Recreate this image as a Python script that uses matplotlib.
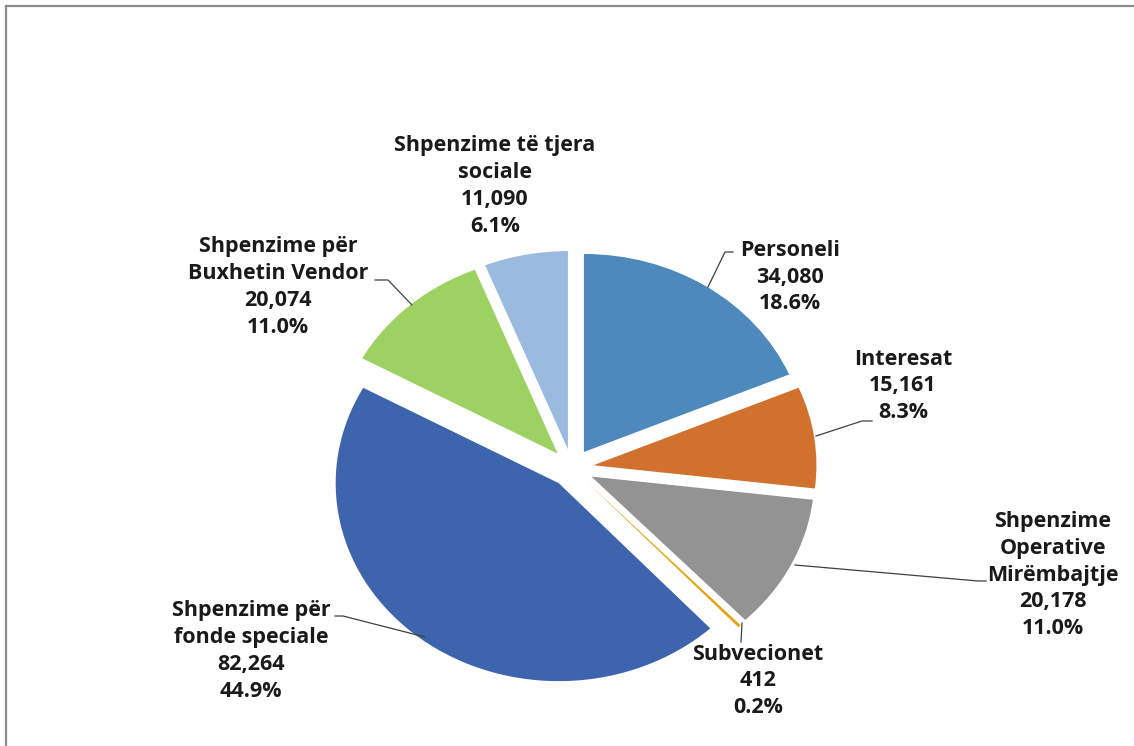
import matplotlib
matplotlib.use("Agg")
import matplotlib.pyplot as plt
from matplotlib.lines import Line2D

# ---- data ----
categories = ["Personeli", "Interesat", "Shpenzime\nOperative\nMirëmbajtje",
              "Subvecionet", "Shpenzime për\nfonde speciale",
              "Shpenzime për\nBuxhetin Vendor", "Shpenzime të tjera\nsociale"]
values = [34080, 15161, 20178, 412, 82264, 20074, 11090]
colors = ["#4E89BD", "#D2702D", "#939393", "#E5A30F", "#3D64AC", "#9DD263", "#9ABAE0"]

# layout: label centres and leader lines in pixels (layout only)
label_px = [(790, 277), (903, 386), (1053, 575), (758, 681),
            (251, 651), (278, 287), (495, 186)]
leader_px = [
    [(708, 287), (725, 252), (733, 252)],
    [(816, 436), (862, 421), (872, 421)],
    [(795, 565), (978, 581), (986, 581)],
    [(742, 623), (741, 642)],
    [(425, 637), (343, 616), (335, 616)],
    [(412, 305), (388, 280), (375, 280)],
    None,
]

W, H = 1134, 746
CX, CY = 572, 468
RX, RY = 223, 198

fig = plt.figure(figsize=(W / 100, H / 100), dpi=100)
ax = fig.add_axes([0, 0, 1, 1])

def to_data(px, py):
    return (px - CX) / RX, (CY - py) / RY

total = sum(values)
ax.pie(values, colors=colors, startangle=90, counterclock=False,
       explode=[0.097] * len(values), wedgeprops=dict(linewidth=0))
ax.set_aspect("auto")
ax.set_xlim((0 - CX) / RX, (W - CX) / RX)
ax.set_ylim((CY - H) / RY, (CY - 0) / RY)
ax.axis("off")

for cat, v, (lx, ly) in zip(categories, values, label_px):
    txt = f"{cat}\n{v:,}\n{v / total * 100:.1f}%"
    x, y = to_data(lx, ly)
    ax.text(x, y, txt, ha="center", va="center", fontsize=15.5,
            fontweight="bold", family=["Open Sans", "DejaVu Sans"],
            color="#1a1a1a", linespacing=1.36)

for pts in leader_px:
    if pts is None:
        continue
    xs, ys = zip(*[to_data(px, py) for px, py in pts])
    ax.plot(xs, ys, color="#404040", linewidth=0.9)

# chart frame (left and top visible)
fig.add_artist(Line2D([5.5 / W, 5.5 / W], [0, 1 - 5.5 / H], transform=fig.transFigure,
                      color="#8c8c8c", linewidth=1.6))
fig.add_artist(Line2D([5.5 / W, 1], [1 - 6 / H, 1 - 6 / H], transform=fig.transFigure,
                      color="#8c8c8c", linewidth=1.6))

fig.savefig("out.png", dpi=100, facecolor="white")
